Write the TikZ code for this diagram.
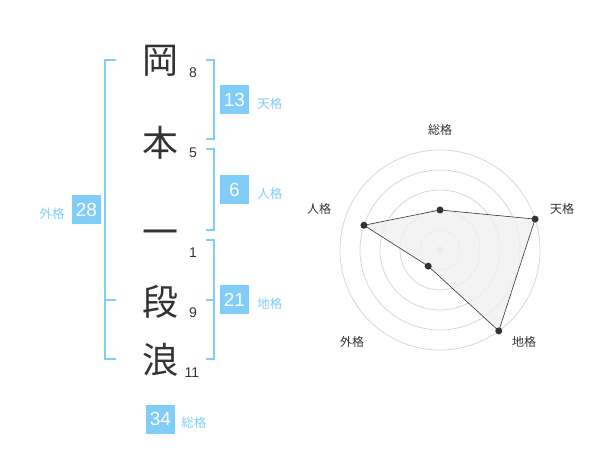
\documentclass[tikz,border=0pt]{standalone}
\usepackage{fontspec}
\usetikzlibrary{positioning}
\setmainfont{Liberation Sans}
\newfontfamily\jpfont{Noto Sans CJK JP}
\definecolor{kakublue}{RGB}{128,205,248}
\definecolor{inkgray}{RGB}{51,51,51}
\definecolor{ringgray}{RGB}{210,210,210}
\definecolor{fillgray}{RGB}{240,240,240}
\begin{document}
\begin{tikzpicture}[
  x=1pt, y=-1pt,
  kanji/.style={font=\jpfont\fontsize{36}{36}\selectfont, text=inkgray, inner sep=0pt},
  stroke/.style={font=\fontsize{14}{14}\selectfont, text=inkgray, inner sep=0pt},
  kakubox/.style={fill=kakublue, text=white, minimum width=29pt, minimum height=29pt, inner sep=0pt, font=\fontsize{19}{19}\selectfont},
  kakulabel/.style={font=\jpfont\fontsize{12.5}{12.5}\selectfont, text=kakublue, inner sep=0pt, yshift=-3.5pt},
  bracket/.style={draw=kakublue, line width=2pt},
  ring/.style={draw=ringgray, line width=0.7pt},
  axislabel/.style={font=\jpfont\fontsize{12}{12}\selectfont, text=inkgray, inner sep=0pt},
  dot/.style={circle, fill=inkgray, inner sep=0pt, minimum size=7pt}
]
\useasboundingbox (0,0) rectangle (600,470);

% name characters
\node[kanji] (oka) at (160,61) {岡};
\node[kanji] (hon) at (160,143) {本};
\node[kanji] (ichi) at (160,238) {一};
\node[kanji] (dan) at (160,302) {段};
\node[kanji] (nami) at (160,360) {浪};

\node[stroke] (s1) at (193,73) {8};
\node[stroke] (s2) at (193,153) {5};
\node[stroke] (s3) at (193,253) {1};
\node[stroke] (s4) at (193,313) {9};
\node[stroke] (s5) at (192,373) {11};

% brackets
\draw[bracket] (206,60) -| (214,139) -- (206,139);
\draw[bracket] (206,149) -| (214,230) -- (206,230);
\draw[bracket] (206,240) -| (214,359) -- (206,359);
\draw[bracket] (206,300) -- (214,300);
\draw[bracket] (116,60) -| (105,359) -- (116,359);
\draw[bracket] (105,300) -- (116,300);

% kaku values
\node[kakubox] (ten) at (234.5,100) {13};
\node[kakulabel, right=8pt of ten] (tenl) {天格};
\node[kakubox] (jin) at (234.5,190) {6};
\node[kakulabel, right=8pt of jin] (jinl) {人格};
\node[kakubox] (chi) at (234.5,300) {21};
\node[kakulabel, right=8pt of chi] (chil) {地格};
\node[kakubox] (gai) at (86.5,210) {28};
\node[kakulabel, left=7pt of gai] (gail) {外格};
\node[kakubox] (sou) at (160.5,419) {34};
\node[kakulabel, right=6pt of sou] (soul) {総格};

% radar chart
\begin{scope}[shift={(440,250)}, y=1pt]
  \foreach \r in {20,40,60,80,100}
    \draw[ring] (0,0) circle[radius=\r pt];
  \fill[ringgray] (0,0) circle[radius=3.5pt];
  \coordinate (pSou) at (90:40);
  \coordinate (pTen) at (18:100);
  \coordinate (pChi) at (-54:100);
  \coordinate (pGai) at (-126:20);
  \coordinate (pJin) at (162:80);
  \filldraw[fill=fillgray, fill opacity=0.8, draw=inkgray, line width=0.6pt]
    (pSou) -- (pTen) -- (pChi) -- (pGai) -- (pJin) -- cycle;
  \foreach \p in {pSou,pTen,pChi,pGai,pJin}
    \node[dot] at (\p) {};
  \node[axislabel] (aSou) at (0,120) {総格};
  \node[axislabel] (aTen) at (122,41) {天格};
  \node[axislabel] (aJin) at (-121,41) {人格};
  \node[axislabel] (aGai) at (-88,-92) {外格};
  \node[axislabel] (aChi) at (84,-92) {地格};
\end{scope}
\end{tikzpicture}
\end{document}
